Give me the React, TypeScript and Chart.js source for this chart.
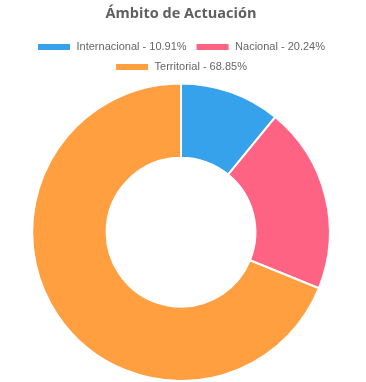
import React, { useEffect, useRef } from "react";
import { Chart, registerables } from "chart.js";

Chart.register(...registerables);

const labels = ["Internacional - 10.91%", "Nacional - 20.24%", "Territorial - 68.85%"];
const values = [10.91, 20.24, 68.85];
const colors = ["#36A2EB", "#FF6384", "#FF9F40"];
const title = "Ámbito de Actuación";

export default function App() {
  const ref = useRef<HTMLCanvasElement>(null);
  useEffect(() => {
    if (!ref.current) return;
    const chart = new Chart(ref.current, {
      type: "doughnut",
      data: {
        labels,
        datasets: [
          {
            data: values,
            backgroundColor: colors,
            borderColor: "#ffffff",
            borderWidth: 2,
          },
        ],
      },
      options: {
        animation: false,
        responsive: true,
        maintainAspectRatio: false,
        cutout: "50%",
        layout: { padding: 0 },
        plugins: {
          title: {
            display: true,
            text: title,
            color: "#5f5f5f",
            font: { family: "'Open Sans', sans-serif", size: 14.5, weight: "bold" },
            padding: { top: 5, bottom: 10 },
          },
          legend: {
            position: "top",
            labels: {
              boxWidth: 34,
              boxHeight: 8,
              color: "#666666",
              font: { family: "'Liberation Sans', Arial, sans-serif", size: 11 },
              padding: 9,
            },
          },
          tooltip: { enabled: false },
        },
      },
    });
    return () => chart.destroy();
  }, []);
  return (
    <div style={{ position: "absolute", top: 0, left: 8, width: 346, height: 382 }}>
      <canvas ref={ref} />
    </div>
  );
}
